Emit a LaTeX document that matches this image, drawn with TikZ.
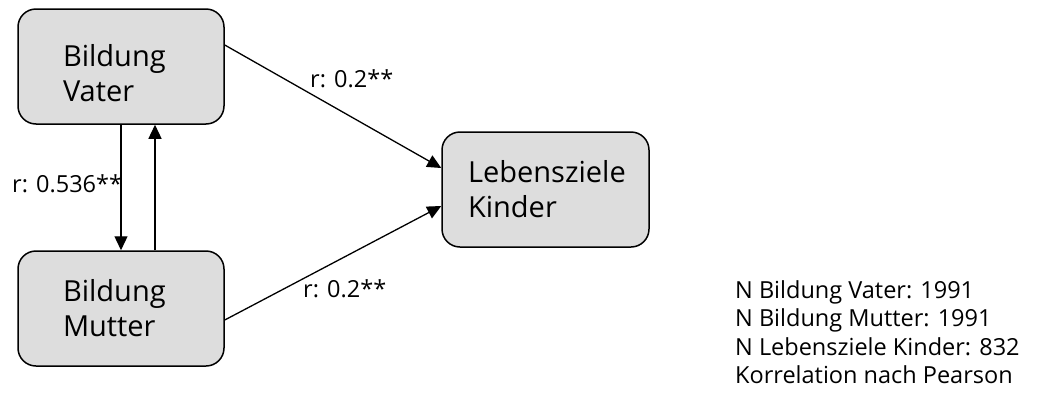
\documentclass[tikz,border=0pt]{standalone}
\usepackage{fontspec}
\setmainfont{Open Sans}
\usetikzlibrary{arrows.meta}
\definecolor{boxgray}{RGB}{221,221,221}
\tikzset{
  box/.style={draw=black, line width=1.5pt, fill=boxgray, rounded corners=18pt,
    minimum width=206pt, minimum height=115pt, inner xsep=0pt, align=left,
    font=\fontsize{29}{35}\selectfont},
  arr/.style={line width=1.3pt, -{Triangle[length=14pt,width=13pt]}},
  lab/.style={anchor=base west, inner sep=0pt, font=\fontsize{23.5}{28}\selectfont},
  leg/.style={anchor=base west, inner sep=0pt, font=\fontsize{23.5}{28}\selectfont}
}
\begin{document}
\begin{tikzpicture}[x=1pt,y=-1pt]
\useasboundingbox (0,0) rectangle (1039,418);
\node[box, text width=116pt] (vater) at (121,66.5) {\raisebox{0pt}[\dimexpr\height+13pt\relax]{Bildung}\\Vater};
\node[box, text width=116pt] (mutter) at (121,308.5) {Bildung\\Mutter};
\node[box, text width=155pt, minimum width=207pt] (kinder) at (545.5,189.5) {Lebensziele\\Kinder};
\draw[arr] (vater.south) -- (mutter.north);
\draw[arr] ([xshift=34pt]mutter.north) -- ([xshift=34pt]vater.south);
\draw[arr] ([yshift=21.5pt]vater.east) -- ([yshift=21.5pt]kinder.west);
\draw[arr] ([yshift=-11.5pt]mutter.east) -- ([yshift=-16.5pt]kinder.west);
\node[lab] (l1) at (310,87) {r: 0.2**};
\node[lab] (l2) at (12,192) {r: 0.536**};
\node[lab] (l3) at (303,297) {r: 0.2**};
\node[leg] (n1) at (735,298) {N Bildung Vater: 1991};
\node[leg] (n2) at (735,326.5) {N Bildung Mutter: 1991};
\node[leg] (n3) at (735,355) {N Lebensziele Kinder: 832};
\node[leg] (n4) at (735,383.5) {Korrelation nach Pearson};
\end{tikzpicture}
\end{document}
